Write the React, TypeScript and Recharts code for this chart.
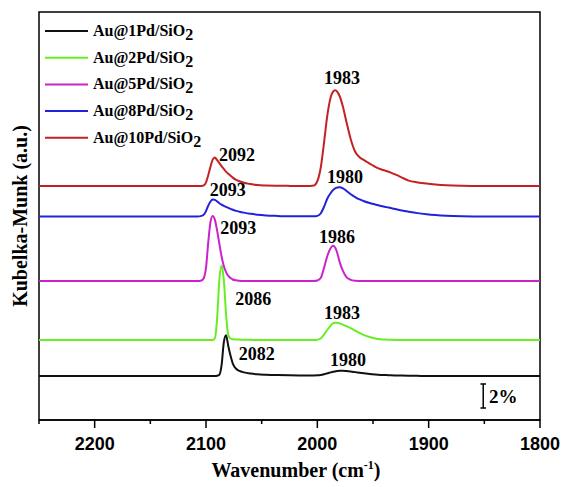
import React from "react";
import {
  LineChart,
  Line,
  XAxis,
  YAxis,
  ReferenceArea,
  ReferenceDot,
  ReferenceLine,
} from "recharts";

// wavenumber grid (cm-1), high to low
const wavenumbers = [
  2250, 2200, 2150, 2120, 2108, 2104, 2102, 2100, 2098, 2096, 2094, 2092, 2090, 2088, 2086,
  2084, 2082, 2080, 2078, 2076, 2073, 2070, 2066, 2060, 2054, 2046, 2036, 2025, 2010, 2003,
  2000, 1997, 1994, 1991, 1988, 1986, 1984, 1982, 1980, 1977, 1974, 1970, 1966, 1962, 1958,
  1953, 1948, 1943, 1938, 1934, 1929, 1924, 1918, 1910, 1902, 1894, 1884, 1870, 1850, 1800,
];

// Kubelka-Munk intensity (%) above each baseline
const au1Pd = [
  0, 0, 0, 0, 0, 0, 0, 0, 0, 0, 0, 0, 0.02, 0.1, 0.9,
  2.8, 3.4, 2.5, 1.7, 1.05, 0.6, 0.42, 0.3, 0.2, 0.14, 0.1, 0.07, 0.05, 0.04, 0.04,
  0.05, 0.08, 0.14, 0.22, 0.3, 0.35, 0.38, 0.41, 0.43, 0.43, 0.41, 0.37, 0.32, 0.27, 0.22,
  0.16, 0.12, 0.09, 0.07, 0.05, 0.04, 0.03, 0.02, 0.01, 0, 0, 0, 0, 0, 0,
];
const au2Pd = [
  0, 0, 0, 0, 0, 0, 0, 0, 0, 0, 0, 0.15, 1.8, 5.0, 6.2,
  5.0, 2.2, 0.4, 0.12, 0.06, 0.04, 0.03, 0.02, 0.01, 0, 0, 0, 0, 0, 0,
  0.02, 0.12, 0.45, 0.85, 1.2, 1.38, 1.44, 1.43, 1.38, 1.28, 1.15, 0.98, 0.78, 0.58, 0.4,
  0.24, 0.13, 0.06, 0.03, 0.01, 0, 0, 0, 0, 0, 0, 0, 0, 0, 0,
];
const au5Pd = [
  0, 0, 0, 0, 0, 0.05, 0.25, 1.1, 3.2, 4.9, 5.42, 5.1, 4.2, 3.1, 2.05,
  1.25, 0.75, 0.43, 0.25, 0.13, 0.06, 0.03, 0.01, 0, 0, 0, 0, 0, 0, 0,
  0.04, 0.25, 1.1, 2.1, 2.75, 2.94, 2.8, 2.3, 1.6, 0.85, 0.35, 0.1, 0.03, 0.01, 0,
  0, 0, 0, 0, 0, 0, 0, 0, 0, 0, 0, 0, 0, 0, 0,
];
const au8Pd = [
  0, 0, 0, 0, 0, 0.05, 0.15, 0.45, 0.9, 1.25, 1.42, 1.38, 1.25, 1.1, 0.98,
  0.88, 0.8, 0.72, 0.64, 0.56, 0.47, 0.4, 0.32, 0.22, 0.15, 0.09, 0.05, 0.02, 0.01, 0.01,
  0.05, 0.25, 0.8, 1.5, 1.95, 2.2, 2.35, 2.42, 2.44, 2.35, 2.15, 1.85, 1.62, 1.42, 1.27,
  1.12, 1.0, 0.88, 0.78, 0.7, 0.6, 0.5, 0.4, 0.28, 0.19, 0.12, 0.06, 0.02, 0, 0,
];
const au10Pd = [
  0, 0, 0, 0, 0, 0, 0.05, 0.3, 0.9, 1.6, 2.2, 2.38, 2.15, 1.9, 1.65,
  1.42, 1.2, 1.02, 0.86, 0.7, 0.52, 0.4, 0.27, 0.16, 0.08, 0.04, 0.02, 0.01, 0, 0.05,
  0.4, 1.5, 3.6, 5.9, 7.4, 7.85, 7.98, 7.85, 7.5, 6.6, 5.4, 3.9, 2.85, 2.4, 2.15,
  1.87, 1.6, 1.4, 1.25, 1.12, 0.92, 0.7, 0.45, 0.3, 0.2, 0.13, 0.07, 0.03, 0.01, 0,
];

// vertical offsets of each trace (%)
const baselines = [3.67, 6.67, 11.58, 16.96, 19.5];

const seriesKeys = ["pd1", "pd2", "pd5", "pd8", "pd10"];
const seriesLabels = ["Au@1Pd/SiO", "Au@2Pd/SiO", "Au@5Pd/SiO", "Au@8Pd/SiO", "Au@10Pd/SiO"];
const seriesValues = [au1Pd, au2Pd, au5Pd, au8Pd, au10Pd];
const colors = ["#111111", "#66ee22", "#cc22cc", "#2222dd", "#c42222"];

const xTicks = [2250, 2200, 2150, 2100, 2050, 2000, 1950, 1900, 1850, 1800];

// peak annotations: text, wavenumber, height (%)
const peakText = ["2082", "1980", "2086", "1983", "2093", "1986", "2093", "1980", "2092", "1983"];
const peakAt = [
  [2054.5, 5.56], [1972.4, 5.0],
  [2057.5, 10.14], [1977.8, 8.92],
  [2071, 16.06], [1982.3, 15.25],
  [2080.4, 19.2], [1975.1, 20.25],
  [2072.1, 22.1], [1977.8, 28.5],
];

const chartData = wavenumbers.map((wn, i) => {
  const row: Record<string, number> = { wn };
  seriesKeys.forEach((k, s) => {
    row[k] = seriesValues[s][i] + baselines[s];
  });
  return row;
});

const serif = "'Liberation Serif', 'Times New Roman', serif";
const sans = "'Liberation Sans', Arial, sans-serif";

function WaveTick(props: any) {
  const { x, y, payload } = props;
  const major = payload.value % 100 === 0;
  return (
    <g>
      <line x1={x} x2={x} y1={y} y2={y + (major ? 8 : 4)} stroke="#000" strokeWidth={1.5} />
      {major && (
        <text x={x} y={y + 30} textAnchor="middle" fontFamily={sans} fontWeight="bold" fontSize={18} fill="#000">
          {payload.value}
        </text>
      )}
    </g>
  );
}

export default function App() {
  return (
    <div style={{ position: "absolute", left: 0, top: 0, width: 563, height: 487, background: "#fff" }}>
      <LineChart
        width={563}
        height={487}
        data={chartData}
        margin={{ top: 12, right: 23, bottom: 0, left: 39 }}
      >
        <XAxis
          dataKey="wn"
          type="number"
          domain={[1800, 2250]}
          reversed
          ticks={xTicks}
          interval={0}
          height={67}
          tickSize={0}
          tickMargin={0}
          tickLine={false}
          axisLine={{ stroke: "#000", strokeWidth: 1.5 }}
          tick={<WaveTick />}
          allowDataOverflow
        />
        <YAxis type="number" domain={[0, 34]} hide allowDataOverflow />
        <ReferenceArea
          x1={2250}
          x2={1800}
          y1={0}
          y2={34}
          fill="none"
          fillOpacity={0}
          stroke="#000"
          strokeWidth={1.5}
          ifOverflow="visible"
        />
        {seriesKeys.map((k, s) => (
          <Line
            key={k}
            dataKey={k}
            type="monotone"
            stroke={colors[s]}
            strokeWidth={2}
            dot={false}
            activeDot={false}
            isAnimationActive={false}
          />
        ))}
        {peakText.map((t, i) => (
          <ReferenceDot
            key={i}
            x={peakAt[i][0]}
            y={peakAt[i][1]}
            r={0}
            fill="none"
            stroke="none"
            ifOverflow="visible"
            label={{
              value: t,
              position: "center",
              fill: "#000",
              fontSize: 18,
              fontWeight: "bold",
              fontFamily: serif,
            }}
          />
        ))}
        {/* 2% scale bar */}
        <ReferenceLine segment={[{ x: 1851, y: 1 }, { x: 1851, y: 3 }]} stroke="#000" strokeWidth={1.5} ifOverflow="visible" />
        <ReferenceLine segment={[{ x: 1853.5, y: 1 }, { x: 1848.5, y: 1 }]} stroke="#000" strokeWidth={1.5} ifOverflow="visible" />
        <ReferenceLine segment={[{ x: 1853.5, y: 3 }, { x: 1848.5, y: 3 }]} stroke="#000" strokeWidth={1.5} ifOverflow="visible" />
        <ReferenceDot
          x={1833}
          y={2}
          r={0}
          fill="none"
          stroke="none"
          ifOverflow="visible"
          label={{ value: "2%", position: "center", fill: "#000", fontSize: 19, fontWeight: "bold", fontFamily: serif }}
        />

        {/* legend */}
        <g>
          {seriesLabels.map((name, s) => {
            const y = 31 + s * 26.7;
            return (
              <g key={name}>
                <line x1={45} x2={88} y1={y} y2={y} stroke={colors[s]} strokeWidth={2} />
                <text x={93} y={y + 5} fontFamily={serif} fontWeight="bold" fontSize={16} fill="#000">
                  {name}
                  <tspan dy={4}>2</tspan>
                </text>
              </g>
            );
          })}
        </g>

        {/* axis titles */}
        <text
          x={20}
          y={216}
          transform="rotate(-90 20 216)"
          textAnchor="middle"
          dominantBaseline="central"
          fontFamily={serif}
          fontWeight="bold"
          fontSize={20}
          fill="#000"
        >
          Kubelka-Munk (a.u.)
        </text>
        <text x={296} y={477} textAnchor="middle" fontFamily={serif} fontWeight="bold" fontSize={20} fill="#000">
          Wavenumber (cm
          <tspan dy={-8} fontSize={12}>-1</tspan>
          <tspan dy={8}>)</tspan>
        </text>
      </LineChart>
    </div>
  );
}
